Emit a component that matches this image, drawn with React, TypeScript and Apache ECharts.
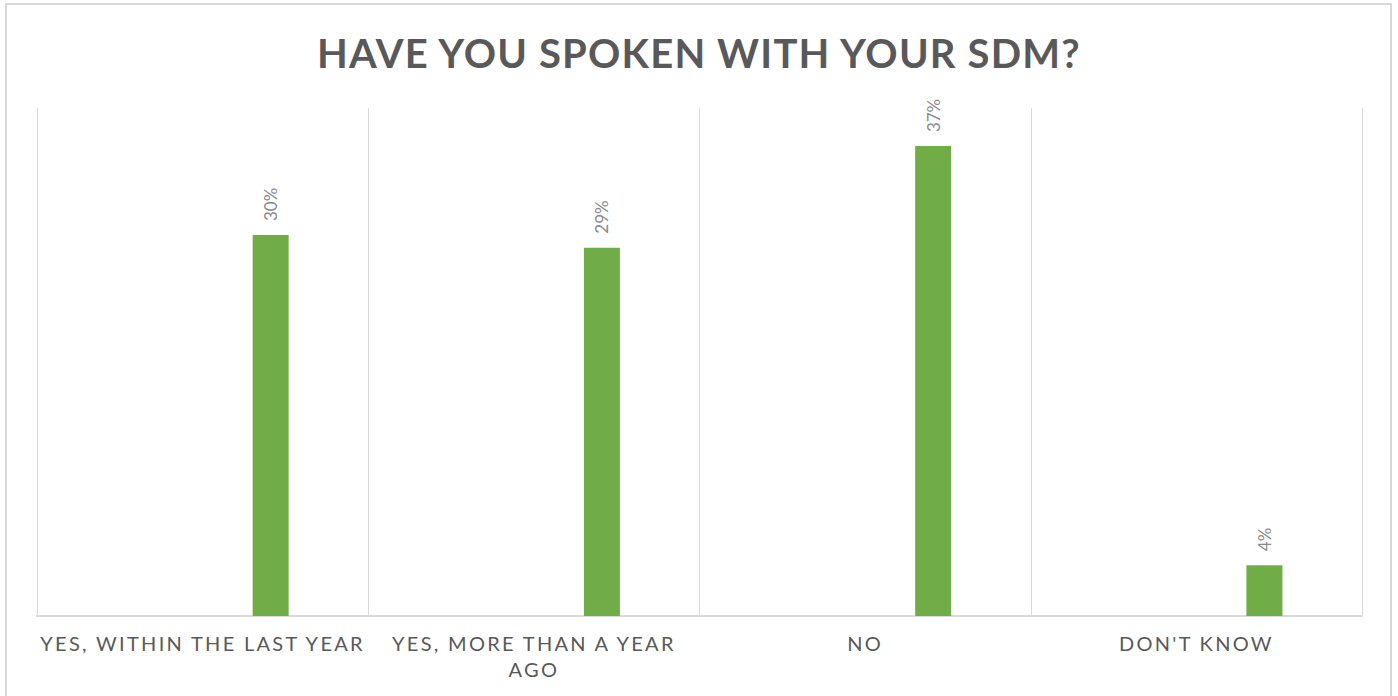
import React, { useEffect, useRef } from "react";
import * as echarts from "echarts";

const titleText = "HAVE YOU SPOKEN WITH YOUR SDM?";
const categories = ["YES, WITHIN THE LAST YEAR", "YES, MORE THAN A YEAR\nAGO", "NO", "DON'T KNOW"];
const emptySeries = ["-", "-", "-", "-"];
const percentValues = [30, 29, 37, 4];
const yMin = 0;
const yMax = 40;

export default function App() {
  const ref = useRef<HTMLDivElement>(null);
  useEffect(() => {
    if (!ref.current) return;
    const chart = echarts.init(ref.current, undefined, { renderer: "svg" });
    chart.setOption({
      animation: false,
      backgroundColor: "#ffffff",
      title: {
        text: titleText,
        left: "center",
        top: 28,
        textStyle: { fontFamily: "Lato", fontWeight: "bold", fontSize: 40, color: "#595959" },
      },
      graphic: [
        {
          type: "rect",
          shape: { x: 6, y: 4, width: 1385, height: 720 },
          style: { fill: "none", stroke: "#d9d9d9", lineWidth: 2 },
          silent: true,
        },
      ],
      grid: { left: 37, right: 36, top: 108, bottom: 80 },
      xAxis: {
        type: "category",
        data: categories,
        axisLine: { show: true, lineStyle: { color: "#d9d9d9", width: 2 } },
        axisTick: { show: false },
        splitLine: { show: true, showMinLine: true, showMaxLine: true, lineStyle: { color: "#d9d9d9", width: 1 } },
        axisLabel: {
          interval: 0,
          fontFamily: "Lato",
          fontSize: 20,
          color: "#595959",
          margin: 14,
          lineHeight: 26,
        },
      },
      yAxis: {
        type: "value",
        min: yMin,
        max: yMax,
        show: false,
        splitLine: { show: false },
      },
      series: [
        {
          type: "bar",
          data: emptySeries,
          barWidth: 36,
          barGap: "278%",
          itemStyle: { color: "#4472c4" },
        },
        {
          type: "bar",
          data: percentValues,
          barWidth: 36,
          barGap: "278%",
          itemStyle: { color: "#70ad47" },
          label: {
            show: true,
            position: "top",
            rotate: 90,
            align: "left",
            verticalAlign: "middle",
            distance: 14,
            fontFamily: "Lato",
            fontSize: 17,
            color: "#8a8a8a",
            formatter: "{c}%",
          },
        },
      ],
    });
    return () => chart.dispose();
  }, []);
  return (
    <>
      <style>{`#chartbox text[style*="20px"] { letter-spacing: 2.3px; } #chartbox text[style*="40px"] { letter-spacing: 1.2px; }`}</style>
      <div
        id="chartbox"
        ref={ref}
        style={{ position: "fixed", left: 0, top: 0, width: 1398, height: 696 }}
      />
    </>
  );
}
